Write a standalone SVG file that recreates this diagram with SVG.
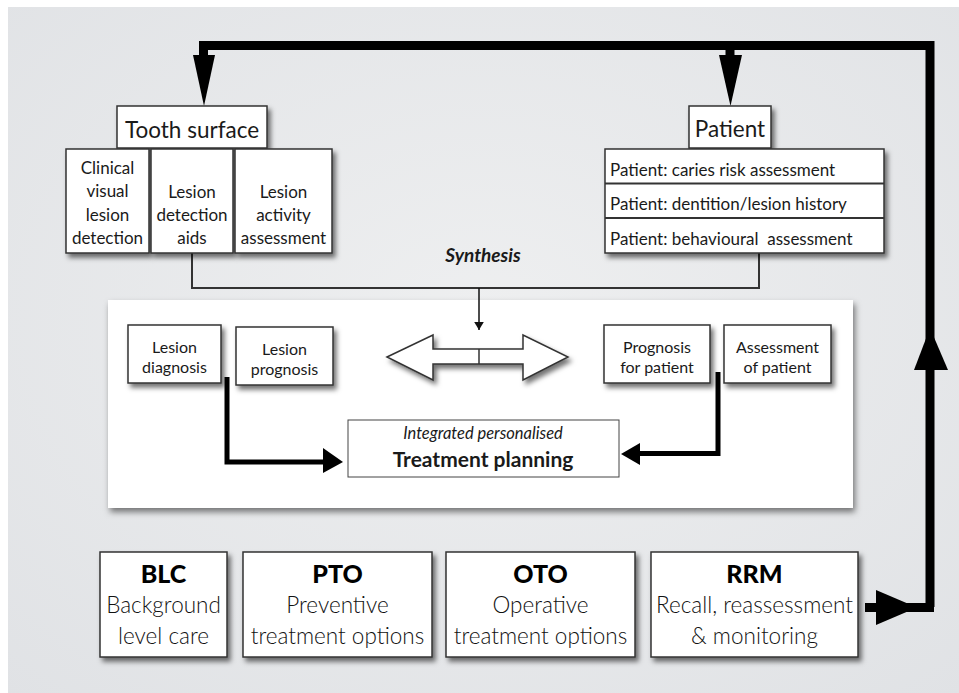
<svg xmlns="http://www.w3.org/2000/svg" width="959" height="693" viewBox="0 0 959 693">
<defs>
  <radialGradient id="bg" cx="0.5" cy="0.45" r="0.75">
    <stop offset="0" stop-color="#eeeff0"/>
    <stop offset="1" stop-color="#e0e2e5"/>
  </radialGradient>
  <filter id="sh" x="-20%" y="-20%" width="150%" height="160%">
    <feDropShadow dx="3" dy="4" stdDeviation="2.5" flood-color="#000" flood-opacity="0.55"/>
  </filter>
  <filter id="shp" x="-5%" y="-5%" width="110%" height="115%">
    <feDropShadow dx="2" dy="4" stdDeviation="3" flood-color="#000" flood-opacity="0.5"/>
  </filter>
  <marker id="thin" viewBox="0 0 10 12" refX="10" refY="6" markerWidth="8" markerHeight="10" markerUnits="userSpaceOnUse" orient="auto">
    <path d="M0,0 L10,6 L0,12 Z" fill="#111"/>
  </marker>
  <style>
    text { font-family: Lato, "Open Sans", "Liberation Sans", sans-serif; fill: #1a1a1a; }
    .box { fill: #fff; stroke: #333; stroke-width: 1.5; }
    .t22 { font-size: 22.5px; text-anchor: middle; }
    .t17 { font-size: 17px; text-anchor: middle; }
    .t16 { font-size: 16px; text-anchor: middle; }
    .row { font-size: 17px; white-space: pre; }
    .title { font-size: 25px; font-weight: 900; text-anchor: middle; fill: #000; }
    .lite { font-size: 22.5px; font-weight: 300; text-anchor: middle; fill: #111; }
    .thick { fill: none; stroke: #000; stroke-width: 9; }
    .mid { fill: none; stroke: #000; stroke-width: 5; }
    .line { fill: none; stroke: #333; stroke-width: 2; }
  </style>
</defs>

<rect x="0" y="0" width="959" height="693" fill="#fff"/>
<rect x="8" y="7" width="951" height="686" fill="url(#bg)"/>

<g id="panel">
  <rect x="108" y="300" width="745" height="208" fill="#fff" filter="url(#shp)"/>
</g>

<g id="connectors">
  <path class="thick" d="M930,607 V45.5 H203.5 V60"/>
  <path class="thick" d="M730,45.5 V60"/>
  <polygon points="193,55 215,55 204,106" fill="#000"/>
  <polygon points="719,55 742,55 730.5,106" fill="#000"/>
  <polygon points="930,328 914,370 948,370" fill="#000"/>
  <path class="thick" d="M865,607.5 H934"/>
  <polygon points="876,590 917,607.5 876,625" fill="#000"/>
  <path class="line" d="M192,253 V288 H759 V253"/>
  <path d="M479,288 V330" stroke="#111" stroke-width="1.5" marker-end="url(#thin)"/>
  <g filter="url(#sh)">
    <polygon points="387,357 433,335 433,349 523,349 523,335 568,357 523,380 523,364 433,364 433,380" fill="#fff" stroke="#333" stroke-width="1.5"/>
  </g>
  <line x1="479" y1="349" x2="479" y2="364" stroke="#333" stroke-width="1.5"/>
  <path class="mid" d="M227,377 V462 H325"/>
  <polygon points="323,448 343,462 323,473" fill="#000"/>
  <path class="mid" d="M718,372 V453.5 H638"/>
  <polygon points="640,443 621,454 640,465" fill="#000"/>
</g>

<g id="tooth-surface">
  <rect class="box" x="117" y="106" width="150" height="42" filter="url(#sh)"/>
  <text class="t22" x="192" y="138">Tooth surface</text>
</g>
<g id="clinical">
  <rect class="box" x="66" y="149" width="83" height="104" filter="url(#sh)"/>
  <text class="t17" x="107.5" y="174">Clinical</text>
  <text class="t17" x="107.5" y="197">visual</text>
  <text class="t17" x="107.5" y="221">lesion</text>
  <text class="t17" x="107.5" y="244">detection</text>
</g>
<g id="detection-aids">
  <rect class="box" x="151" y="149" width="82" height="104" filter="url(#sh)"/>
  <text class="t17" x="192" y="198">Lesion</text>
  <text class="t17" x="192" y="221">detection</text>
  <text class="t17" x="192" y="244">aids</text>
</g>
<g id="activity">
  <rect class="box" x="235" y="149" width="97" height="104" filter="url(#sh)"/>
  <text class="t17" x="283.5" y="198">Lesion</text>
  <text class="t17" x="283.5" y="221">activity</text>
  <text class="t17" x="283.5" y="244">assessment</text>
</g>

<g id="patient">
  <rect class="box" x="689" y="106" width="82" height="42" filter="url(#sh)"/>
  <text class="t22" x="730" y="137">Patient</text>
</g>
<g id="patient-rows">
  <g filter="url(#sh)">
    <rect class="box" x="605" y="149" width="279" height="104"/>
  </g>
  <line x1="605" y1="183.5" x2="884" y2="183.5" stroke="#333" stroke-width="2"/>
  <line x1="605" y1="218" x2="884" y2="218" stroke="#333" stroke-width="2"/>
  <text class="row" x="610" y="176">Patient: caries risk assessment</text>
  <text class="row" x="610" y="210">Patient: dentition/lesion history</text>
  <text class="row" x="610" y="245">Patient: behavioural  assessment</text>
</g>

<g id="synthesis">
  <text x="483" y="262" font-size="19" font-weight="bold" font-style="italic" text-anchor="middle">Synthesis</text>
</g>

<g id="lesion-diagnosis">
  <rect class="box" x="128" y="325" width="93" height="58" filter="url(#sh)"/>
  <text class="t16" x="174.5" y="353">Lesion</text>
  <text class="t16" x="174.5" y="373">diagnosis</text>
</g>
<g id="lesion-prognosis">
  <rect class="box" x="236" y="327" width="97" height="58" filter="url(#sh)"/>
  <text class="t16" x="284.5" y="355">Lesion</text>
  <text class="t16" x="284.5" y="375">prognosis</text>
</g>
<g id="prognosis-patient">
  <rect class="box" x="604" y="325" width="106" height="58" filter="url(#sh)"/>
  <text class="t16" x="657" y="353">Prognosis</text>
  <text class="t16" x="657" y="373">for patient</text>
</g>
<g id="assessment-patient">
  <rect class="box" x="724" y="325" width="107" height="58" filter="url(#sh)"/>
  <text class="t16" x="777.5" y="353">Assessment</text>
  <text class="t16" x="777.5" y="373">of patient</text>
</g>
<g id="treatment-planning">
  <rect x="348" y="420" width="271" height="57" fill="#fff" stroke="#444" stroke-width="1"/>
  <text x="483" y="439" font-size="16.5" font-style="italic" text-anchor="middle">Integrated personalised</text>
  <text x="483" y="467" font-size="21" font-weight="bold" text-anchor="middle">Treatment planning</text>
</g>

<g id="blc">
  <rect class="box" x="100" y="552" width="127" height="105" filter="url(#sh)"/>
  <text class="title" x="163.5" y="583">BLC</text>
  <text class="lite" x="163.5" y="613">Background</text>
  <text class="lite" x="163.5" y="644">level care</text>
</g>
<g id="pto">
  <rect class="box" x="243" y="552" width="189" height="105" filter="url(#sh)"/>
  <text class="title" x="337.5" y="583">PTO</text>
  <text class="lite" x="337.5" y="613">Preventive</text>
  <text class="lite" x="337.5" y="644">treatment options</text>
</g>
<g id="oto">
  <rect class="box" x="446" y="552" width="189" height="105" filter="url(#sh)"/>
  <text class="title" x="540.5" y="583">OTO</text>
  <text class="lite" x="540.5" y="613">Operative</text>
  <text class="lite" x="540.5" y="644">treatment options</text>
</g>
<g id="rrm">
  <rect class="box" x="651" y="552" width="207" height="105" filter="url(#sh)"/>
  <text class="title" x="754.5" y="583">RRM</text>
  <text class="lite" x="754.5" y="613">Recall, reassessment</text>
  <text class="lite" x="754.5" y="644">&amp; monitoring</text>
</g>
</svg>
